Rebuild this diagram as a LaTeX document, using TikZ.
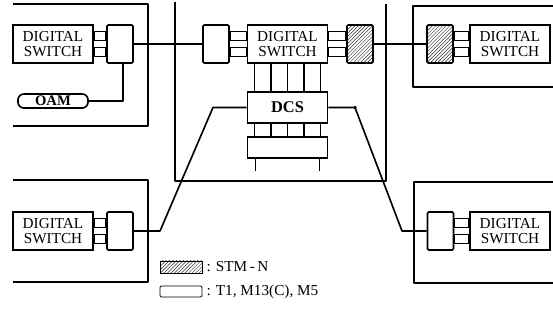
\documentclass[tikz,border=0pt]{standalone}
\usepackage{fontspec}
\setmainfont{Liberation Serif}
\usetikzlibrary{patterns, calc}

%% two short stubs joining a switch to its port box
\newcommand{\portlink}[2]{%
  \draw[wire] ([yshift=0.11cm]#1) rectangle ([yshift=0.37cm]#2);
  \draw[wire] ([yshift=-0.11cm]#1) rectangle ([yshift=-0.37cm]#2);}

\begin{document}
\begin{tikzpicture}[
        x=0.03cm, y=-0.03cm,
        wire/.style={line width=1.4pt, line join=round},
        switchbox/.style={rectangle, draw, line width=1.4pt, minimum width=2.4cm, minimum height=1.14cm, inner sep=0pt, align=center, font=\fontsize{13}{13.5}\selectfont},
        port/.style={rectangle, rounded corners=1pt, draw, line width=1.4pt, minimum width=0.78cm, minimum height=1.14cm, inner sep=0pt},
        stmport/.style={port, pattern=north east lines, pattern color=black!80},
        oambox/.style={rectangle, rounded corners=5pt, draw, line width=1.4pt, minimum width=2.1cm, minimum height=0.42cm, inner sep=0pt, font=\fontsize{12.5}{12.5}\selectfont\bfseries},
        dcsbox/.style={rectangle, draw, line width=1.4pt, minimum width=2.4cm, minimum height=0.93cm, inner sep=0pt, font=\fontsize{14}{14}\selectfont\bfseries},
        legtext/.style={anchor=west, font=\fontsize{13}{13}\selectfont}
    ]
    \useasboundingbox (0,0) rectangle (553,321);

    %% --- Office frames ---
    \draw[wire] (13,4) -| (148,126) -- (13,126);
    \draw[wire] (175,2) -- (175,181) -- (386,181) -- (386,4);
    \draw[wire] (553,6) -| (413,87) -- (553,87);
    \draw[wire] (13,180) -| (148,282) -- (13,282);
    \draw[wire] (553,182) -| (414,283) -- (553,283);

    %% --- Top left office ---
    \node[switchbox] (dsA) at (53,44) {DIGITAL\\SWITCH};
    \node[port]      (pA)  at (120,44) {};
    \node[oambox]    (oam) at (53,101) {OAM};
    \portlink{dsA.east}{pA.west}

    %% --- Centre office with DCS ---
    \node[port]      (pC)  at (216,44) {};
    \node[switchbox] (dsC) at (287.5,44) {DIGITAL\\SWITCH};
    \node[stmport]   (hC)  at (360,44) {};
    \portlink{pC.east}{dsC.west}
    \portlink{dsC.east}{hC.west}
    \node[dcsbox] (dcs) at (287.5,107.5) {DCS};
    \node[rectangle, draw, line width=1.4pt, minimum width=2.4cm, minimum height=0.63cm] (mux) at (287.5,147.5) {};

    %% --- Top right office ---
    \node[stmport]   (hD)  at (440,44) {};
    \node[switchbox] (dsD) at (510,44) {DIGITAL\\SWITCH};
    \portlink{hD.east}{dsD.west}

    %% --- Bottom offices ---
    \node[switchbox] (dsE) at (53,231) {DIGITAL\\SWITCH};
    \node[port]      (pE)  at (120,231) {};
    \portlink{dsE.east}{pE.west}
    \node[port]      (pF)  at (440.5,231) {};
    \node[switchbox] (dsF) at (510,231) {DIGITAL\\SWITCH};
    \portlink{pF.east}{dsF.west}

    %% --- Switch <-> DCS <-> mux ---
    \foreach \dx in {-33,-16.5,0,16.5,33}
        \draw[wire] ($(dsC.south)+(\dx,0)$) -- ($(dcs.north)+(\dx,0)$);
    \foreach \dx in {-33,-16.5,0,16.5,33}
        \draw[wire] ($(dcs.south)+(\dx,0)$) -- ($(mux.north)+(\dx,0)$);
    \foreach \dx in {-32,32}
        \draw[wire] ($(mux.south)+(\dx,0)$) -- ++(0,12);

    %% --- Transmission links ---
    \draw[wire] (pA.east) -- (pC.west);
    \draw[wire] (hC.east) -- (hD.west);
    \draw[wire] (oam.east) -| ($(pA.south)+(3,0)$);
    \coordinate (kL1) at (213,107.5);
    \coordinate (kL2) at (160,231);
    \coordinate (kR1) at (355,107.5);
    \coordinate (kR2) at (402,231);
    \draw[wire] (dcs.west) -- (kL1) -- (kL2) -- (pE.east);
    \draw[wire] (dcs.east) -- (kR1) -- (kR2) -- (pF.west);
    \fill (kR1) circle (1.6pt);

    %% --- Legend ---
    \node[rectangle, draw, line width=0.8pt, pattern=north east lines, pattern color=black!80,
          minimum width=1.26cm, minimum height=0.36cm] (lgH) at (181,267) {};
    \node[legtext] (lgHtxt) at (lgH.east) {: STM\,-\,N};
    \node[rectangle, rounded corners=1pt, draw, line width=0.8pt,
          minimum width=1.26cm, minimum height=0.33cm] (lgW) at (181,291.5) {};
    \node[legtext] (lgWtxt) at (lgW.east) {: T1, M13(C), M5};

\end{tikzpicture}
\end{document}
